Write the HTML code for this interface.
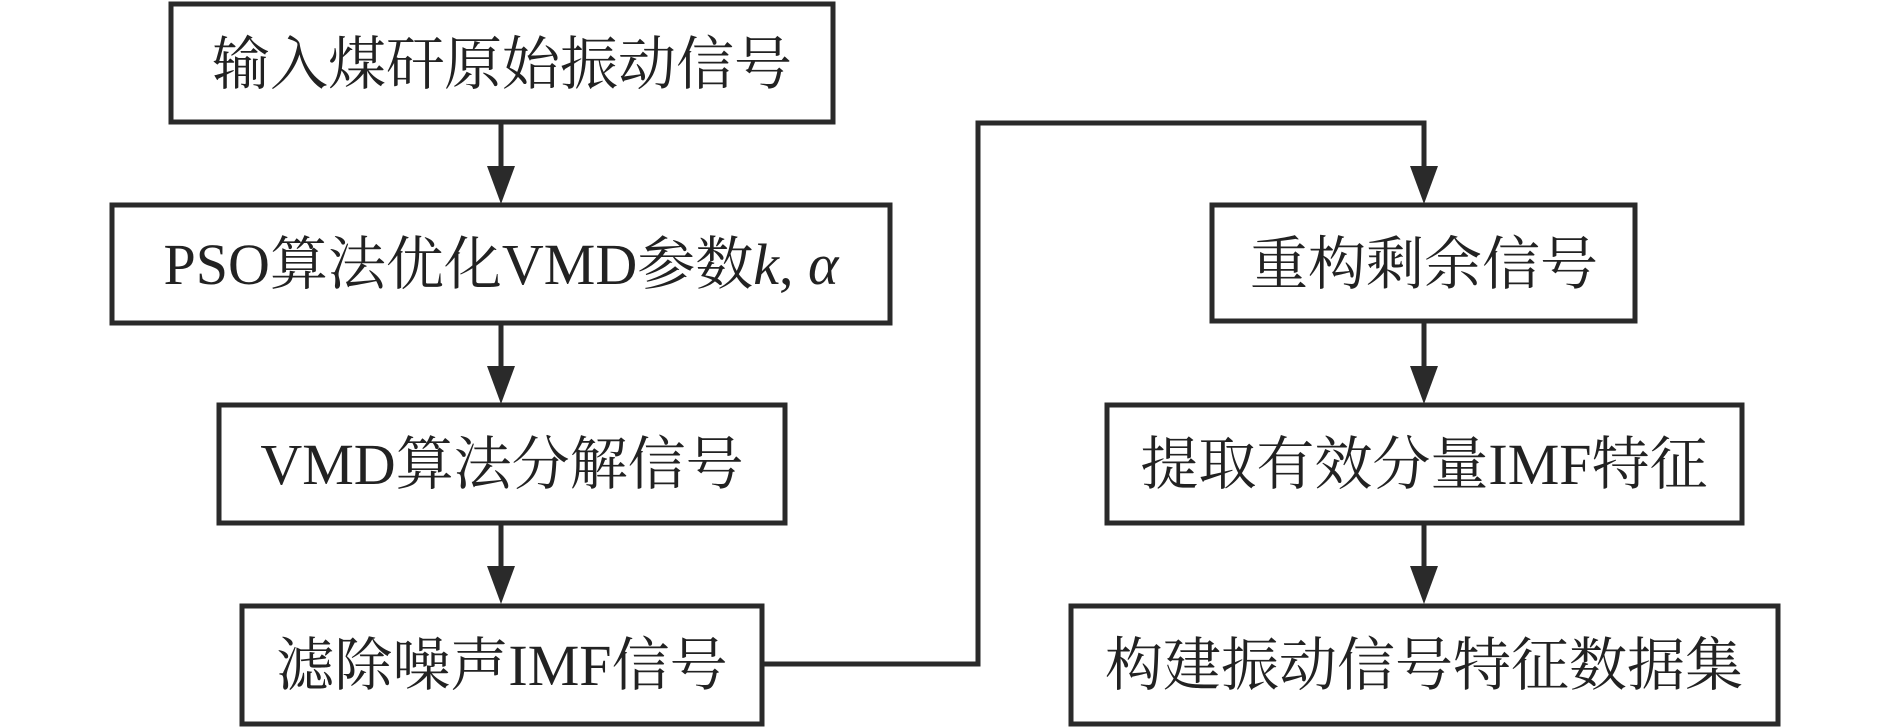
<!DOCTYPE html>
<html><head><meta charset="utf-8"><style>
html,body{margin:0;padding:0;background:#fff;}
body{width:1890px;height:727px;position:relative;overflow:hidden;}
svg{position:absolute;left:0;top:0;}
text{font-family:"Liberation Serif","Noto Serif CJK SC",serif;font-size:58px;fill:#222;}
</style></head><body>
<svg width="1890" height="727" viewBox="0 0 1890 727">
<g fill="none" stroke="#2a2a2a" stroke-width="5">
<rect x="171" y="4" width="662" height="118"/>
<rect x="112" y="205" width="778" height="118"/>
<rect x="219" y="405" width="566" height="118"/>
<rect x="242" y="606" width="520" height="118"/>
<rect x="1212" y="205" width="423" height="116"/>
<rect x="1107" y="405" width="635" height="118"/>
<rect x="1071" y="606" width="707" height="118"/>
<path d="M501 122V170M501 323V370M501 523V570M1424 321V370M1424 523V570"/>
<path d="M762 664H978V123H1424V170"/>
</g>
<g fill="#2a2a2a">
<path d="M487 166L515 166L501 204Z"/>
<path d="M487 366L515 366L501 404Z"/>
<path d="M487 566L515 566L501 604Z"/>
<path d="M1410 166L1438 166L1424 204Z"/>
<path d="M1410 366L1438 366L1424 404Z"/>
<path d="M1410 566L1438 566L1424 604Z"/>
</g>
<g text-anchor="middle">
<text x="502" y="84">输入煤矸原始振动信号</text>
<text x="501" y="284">PSO算法优化VMD参数<tspan font-style="italic">k</tspan>, <tspan font-style="italic">α</tspan></text>
<text x="502" y="484">VMD算法分解信号</text>
<text x="502" y="685">滤除噪声IMF信号</text>
<text x="1424" y="284">重构剩余信号</text>
<text x="1424" y="484">提取有效分量IMF特征</text>
<text x="1424" y="685">构建振动信号特征数据集</text>
</g>
</svg>
</body></html>
